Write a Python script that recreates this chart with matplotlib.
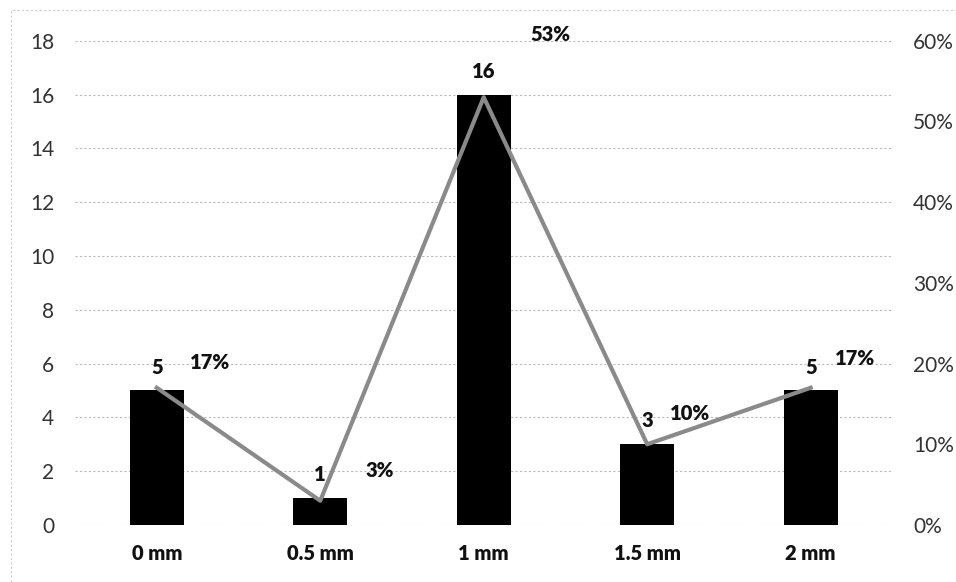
import matplotlib
matplotlib.use("Agg")
import matplotlib.pyplot as plt
from matplotlib.patches import Rectangle

# Data
categories = ["0 mm", "0.5 mm", "1 mm", "1.5 mm", "2 mm"]
counts = [5, 1, 16, 3, 5]
percents = [17, 3, 53, 10, 17]

# Label offsets (points) for the percentage annotations
pct_offsets = [(38, 18), (43, 22), (48, 45), (31, 22), (32, 21)]

plt.rcParams["font.family"] = ["Lato", "DejaVu Sans"]

fig = plt.figure(figsize=(9.56, 5.82), dpi=100)
fig.patch.set_facecolor("white")
ax = fig.add_axes([0.0785, 0.098, 0.855, 0.832])
ax2 = ax.twinx()

x = list(range(len(categories)))
ax.bar(x, counts, width=0.33, color="black", zorder=3)
ax.set_xlim(-0.5, len(categories) - 0.5)
ax.set_ylim(0, 18)
ax.set_yticks(range(0, 19, 2))
ax.set_xticks(x)
ax.set_xticklabels(categories, fontweight="heavy", fontsize=14.5, color="#111111")
ax.tick_params(axis="x", length=0, pad=14)
ax.tick_params(axis="y", length=0, pad=15, labelsize=15, labelcolor="#333333")
ax.grid(axis="y", color="#bbbbbb", linestyle=(0, (2, 2)), linewidth=0.8, zorder=0)
for s in ax.spines.values():
    s.set_visible(False)

for xi, c in zip(x, counts):
    ax.annotate(str(c), (xi, c), xytext=(0, 10), textcoords="offset points",
                ha="center", va="bottom", fontsize=14.5, fontweight="heavy", color="#111111")

ax2.plot(x, percents, color="#8a8a8a", linewidth=3, zorder=4)
ax2.set_ylim(0, 60)
ax2.set_yticks(range(0, 61, 10))
ax2.set_yticklabels([f"{v}%" for v in range(0, 61, 10)])
ax2.tick_params(axis="y", length=0, pad=15, labelsize=15, labelcolor="#333333")
for s in ax2.spines.values():
    s.set_visible(False)

for xi, p, off in zip(x, percents, pct_offsets):
    ax2.annotate(f"{p}%", (xi, p), xytext=off, textcoords="offset points",
                 ha="center", va="center", fontsize=14.5, fontweight="heavy", color="#111111")

# Faint outer frame
fig.patches.append(Rectangle((0.011, -0.02), 1.02, 1.003, transform=fig.transFigure,
                             fill=False, edgecolor="#cccccc", linewidth=0.8,
                             linestyle=(0, (2, 2))))

fig.savefig("out.png", dpi=100, facecolor="white")
